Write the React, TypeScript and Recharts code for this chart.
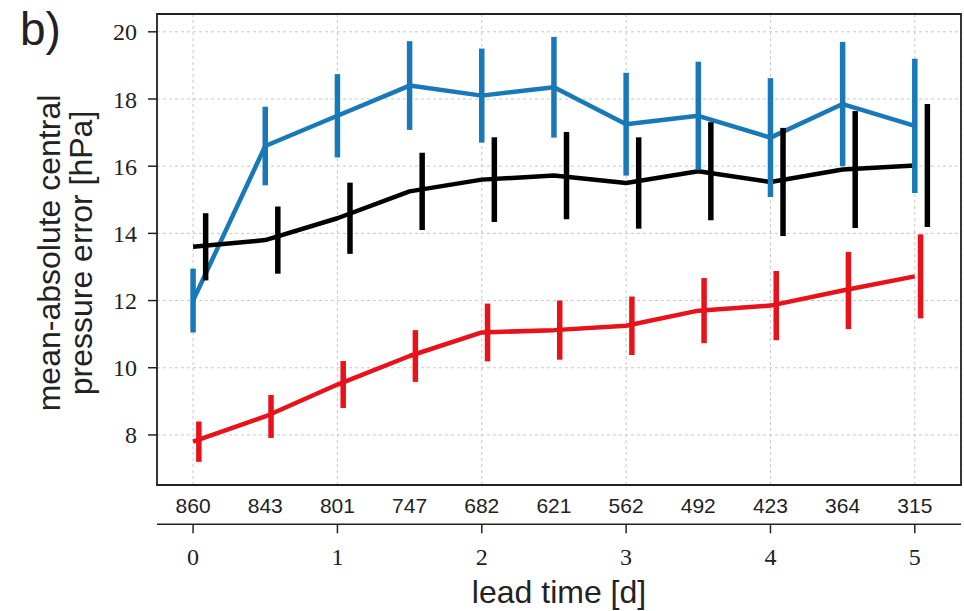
import {
  CartesianGrid,
  ComposedChart,
  ErrorBar,
  Line,
  ReferenceArea,
  Scatter,
  XAxis,
  YAxis,
} from 'recharts';

// lead time in days, and number of cases behind each point
const leadDays = [0, 0.5, 1, 1.5, 2, 2.5, 3, 3.5, 4, 4.5, 5];
const sampleCounts = [860, 843, 801, 747, 682, 621, 562, 492, 423, 364, 315];
const dayTicks = [0, 1, 2, 3, 4, 5];
const errorTicks = [8, 10, 12, 14, 16, 18, 20];

const blueMean = [12.0, 16.6, 17.5, 18.4, 18.1, 18.35, 17.25, 17.5, 16.85, 17.85, 17.2];
const blueErr = [0.95, 1.17, 1.24, 1.32, 1.4, 1.5, 1.53, 1.61, 1.77, 1.85, 2.0];
const blackMean = [13.6, 13.8, 14.45, 15.25, 15.6, 15.72, 15.5, 15.85, 15.53, 15.9, 16.02];
const blackErr = [1.0, 1.0, 1.06, 1.15, 1.26, 1.3, 1.36, 1.46, 1.61, 1.74, 1.83];
const redMean = [7.8, 8.55, 9.5, 10.35, 11.05, 11.12, 11.25, 11.7, 11.85, 12.3, 12.72];
const redErr = [0.6, 0.64, 0.7, 0.77, 0.86, 0.88, 0.87, 0.97, 1.03, 1.15, 1.25];

// error bars are nudged right so they don't sit on top of each other
const redShift = 0.04;
const blackShift = 0.087;

const BLUE = '#1878b8';
const RED = '#e8121b';
const INK = '#222';

const rows = (means: number[], errs: number[], shift = 0) =>
  leadDays.map((d, i) => ({ x: d + shift, y: means[i], err: errs[i] }));

const xDomain = [-0.25, 5.32];
const yDomain = [6.51, 20.53];

const sans = 'Liberation Sans, Arial, sans-serif';
const serif = 'Liberation Serif, Times New Roman, serif';

const hidden = () => <g />;

const SideTexts = () => (
  <g fill={INK} fontFamily={sans}>
    <text x={20} y={45} fontSize={46}>
      b)
    </text>
    <text transform='rotate(-90)' x={-253} y={60} fontSize={32} textAnchor='middle'>
      mean-absolute central
    </text>
    <text transform='rotate(-90)' x={-253} y={92} fontSize={32} textAnchor='middle'>
      pressure error [hPa]
    </text>
  </g>
);

const BottomLabel = () => (
  <text x={559} y={603} fontSize={32} textAnchor='middle' fill={INK} fontFamily={sans}>
    lead time [d]
  </text>
);

const series = [
  { name: 'blue', color: BLUE, means: blueMean, errs: blueErr, shift: 0 },
  { name: 'black', color: '#000', means: blackMean, errs: blackErr, shift: blackShift },
  { name: 'red', color: RED, means: redMean, errs: redErr, shift: redShift },
];

export default function App() {
  return (
    <div style={{ position: 'absolute', left: 0, top: 0, background: '#fff' }}>
      <ComposedChart
        width={964}
        height={611}
        margin={{ top: 14, right: 3, bottom: 0, left: 0 }}
      >
        <CartesianGrid
          xAxisId='days'
          yAxisId='left'
          stroke='#c8c8c8'
          strokeDasharray='3 3'
        />
        {/* sample size row sits right under the frame */}
        <XAxis
          xAxisId='counts'
          dataKey='x'
          type='number'
          domain={xDomain}
          allowDataOverflow
          ticks={leadDays}
          interval={0}
          tickFormatter={(v: number) => String(sampleCounts[leadDays.indexOf(v)] ?? '')}
          tick={{ fontFamily: sans, fontSize: 21, fill: INK }}
          tickLine={false}
          axisLine={false}
          tickSize={0}
          tickMargin={13}
          height={39.3}
        />
        <XAxis
          xAxisId='days'
          dataKey='x'
          type='number'
          domain={xDomain}
          allowDataOverflow
          ticks={dayTicks}
          interval={0}
          tick={{ fontFamily: serif, fontSize: 24, fill: INK }}
          tickLine={{ stroke: INK, strokeWidth: 1.5 }}
          axisLine={{ stroke: INK, strokeWidth: 1.5 }}
          tickSize={9}
          tickMargin={15}
          height={86.7}
          label={{ content: BottomLabel }}
        />
        <YAxis
          yAxisId='left'
          dataKey='y'
          type='number'
          domain={yDomain}
          allowDataOverflow
          ticks={errorTicks}
          interval={0}
          width={157}
          tick={{ fontFamily: serif, fontSize: 24, fill: INK }}
          tickLine={{ stroke: INK, strokeWidth: 1.5 }}
          axisLine={false}
          tickSize={9}
          tickMargin={11}
          label={{ content: SideTexts }}
        />

        {series.map((s) => (
          <Line
            key={s.name + '-line'}
            xAxisId='counts'
            yAxisId='left'
            data={rows(s.means, s.errs)}
            dataKey='y'
            stroke={s.color}
            strokeWidth={4.5}
            strokeLinejoin='round'
            dot={false}
            isAnimationActive={false}
          />
        ))}
        {series.map((s) => (
          <Scatter
            key={s.name + '-err'}
            xAxisId='days'
            yAxisId='left'
            data={rows(s.means, s.errs, s.shift)}
            dataKey='y'
            shape={hidden}
            isAnimationActive={false}
          >
            <ErrorBar
              dataKey='err'
              direction='y'
              width={0}
              stroke={s.color}
              strokeWidth={5.5}
              isAnimationActive={false}
            />
          </Scatter>
        ))}

        <ReferenceArea
          xAxisId='days'
          yAxisId='left'
          x1={xDomain[0]}
          x2={xDomain[1]}
          y1={yDomain[0]}
          y2={yDomain[1]}
          fill='none'
          stroke={INK}
          strokeWidth={1.8}
        />
      </ComposedChart>
    </div>
  );
}
